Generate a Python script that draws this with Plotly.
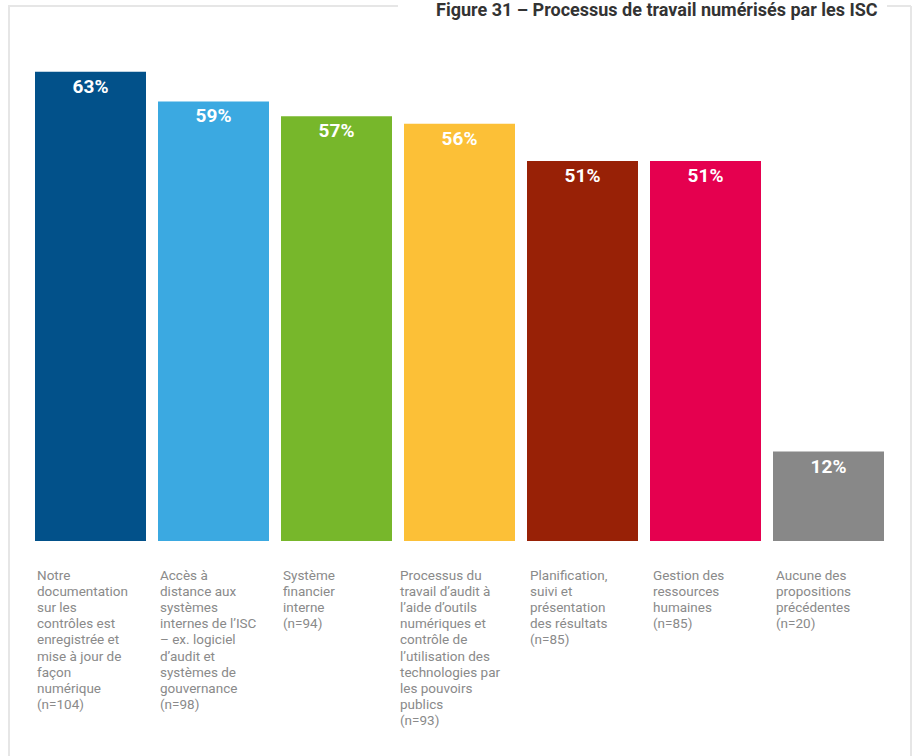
import plotly.graph_objects as go

# Survey results: share of SAIs that have digitised each work process
categories = [
    ["Notre", "documentation", "sur les", "contrôles est", "enregistrée et",
     "mise à jour de", "façon", "numérique", "(n=104)"],
    ["Accès à", "distance aux", "systèmes", "internes de l’ISC", "– ex. logiciel",
     "d’audit et", "systèmes de", "gouvernance", "(n=98)"],
    ["Système", "financier", "interne", "(n=94)"],
    ["Processus du", "travail d’audit à", "l’aide d’outils", "numériques et",
     "contrôle de", "l’utilisation des", "technologies par", "les pouvoirs",
     "publics", "(n=93)"],
    ["Planification,", "suivi et", "présentation", "des résultats", "(n=85)"],
    ["Gestion des", "ressources", "humaines", "(n=85)"],
    ["Aucune des", "propositions", "précédentes", "(n=20)"],
]
values = [63, 59, 57, 56, 51, 51, 12]
colors = ["#02518a", "#3ba9e1", "#77b72b", "#fcc037", "#982106", "#e5004f", "#888888"]
title_text = "Figure 31 – Processus de travail numérisés par les ISC"

W, H = 917, 756
ML, MR, MT, MB = 29, 27, 20, 215
PW, PH = W - ML - MR, H - MT - MB
BARGAP = 12 / 123

# horizontal nudge of each category label relative to its bar's left edge
label_shift = [2, 2, 2, -4, 3, 3, 3]

x_idx = list(range(len(values)))

fig = go.Figure(
    go.Bar(
        x=x_idx,
        y=values,
        marker=dict(color=colors, line=dict(width=0)),
        text=[f"{v}%" for v in values],
        textposition="inside",
        insidetextanchor="end",
        textangle=0,
        textfont=dict(family="Roboto", size=19, color="white", weight="bold"),
        cliponaxis=False,
        hoverinfo="skip",
    )
)


def px_x(px):
    return (px - ML) / PW


def px_y(py):
    return (H - MB - py) / PH


# Category labels, left-aligned under each bar; glyphs a bit larger than the
# base size so the line spacing stays tight
for i, lines in enumerate(categories):
    lab = "<br>".join(f'<span style="font-size:13.5px">{ln}</span>' for ln in lines)
    fig.add_annotation(
        x=i - 0.5 + BARGAP / 2,
        xref="x",
        y=0,
        yref="paper",
        yshift=-24,
        xshift=label_shift[i] - 2,
        text=lab,
        showarrow=False,
        xanchor="left",
        yanchor="top",
        align="left",
        font=dict(family="Roboto", size=12.4, color="#8a8a8a"),
    )

# Title sitting in the top border
fig.add_annotation(
    x=px_x(879),
    xref="paper",
    y=px_y(9.5),
    yref="paper",
    text=f"<b>{title_text}</b>",
    showarrow=False,
    xanchor="right",
    yanchor="middle",
    borderpad=0,
    font=dict(family="Roboto", size=18, color="#333333"),
)

# Light frame around the figure, interrupted by the title
frame = dict(color="#e6e6e6", width=2)
for (x0, y0, x1, y1) in [
    (8, 6, 398, 6),
    (887, 6, 911, 6),
    (9, 6, 9, 760),
    (911, 6, 911, 760),
]:
    fig.add_shape(
        type="line",
        xref="paper",
        yref="paper",
        x0=px_x(x0),
        y0=px_y(y0),
        x1=px_x(x1),
        y1=px_y(y1),
        line=frame,
        layer="below",
    )

fig.update_layout(
    width=W,
    height=H,
    margin=dict(l=ML, r=MR, t=MT, b=MB, pad=0),
    paper_bgcolor="white",
    plot_bgcolor="white",
    bargap=BARGAP,
    showlegend=False,
    font=dict(family="Roboto"),
    uniformtext=dict(mode="show", minsize=19),
    xaxis=dict(
        range=[-0.5, len(values) - 0.5],
        showticklabels=False,
        showgrid=False,
        zeroline=False,
        showline=False,
        ticks="",
        fixedrange=True,
    ),
    yaxis=dict(
        range=[0, PH / 7.45],
        showticklabels=False,
        showgrid=False,
        zeroline=False,
        showline=False,
        ticks="",
        fixedrange=True,
    ),
)

fig.write_html("out.html", config={"displayModeBar": False})
